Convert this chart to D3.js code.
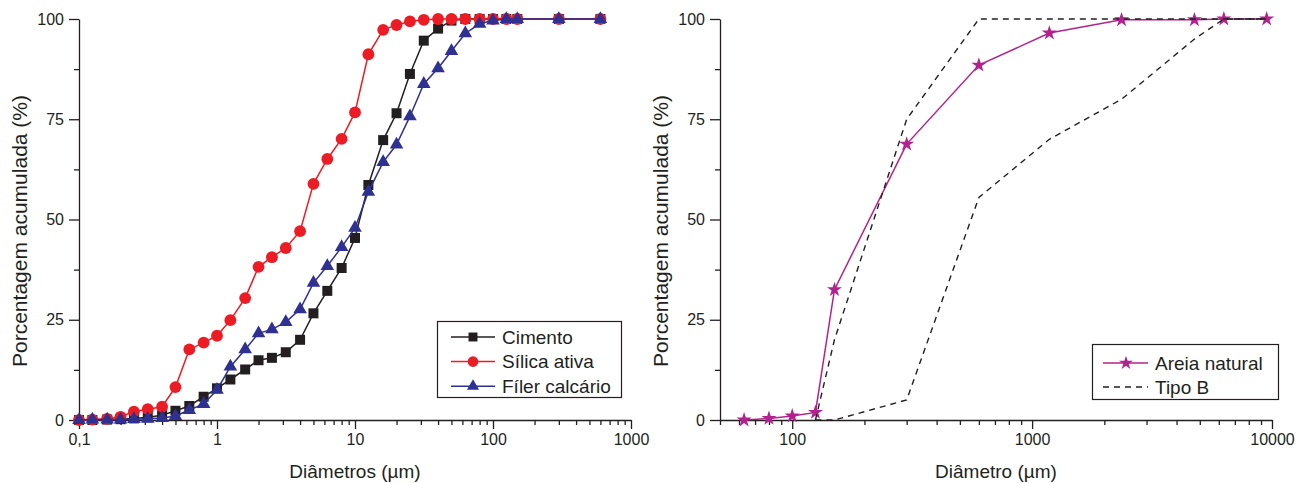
<!DOCTYPE html>
<html><head><meta charset="utf-8">
<script src="https://cdn.jsdelivr.net/npm/d3@7"></script>
<style>body{margin:0;background:#fff}svg{display:block;font-family:"Liberation Sans",Arial,sans-serif}</style>
</head><body>
<svg id="c" width="1304" height="483"></svg>
<script>
// ---- Data: left chart (fines) ----
const diamFines = [0.1,0.125,0.16,0.2,0.25,0.315,0.4,0.5,0.63,0.8,1,1.25,1.6,2,2.5,3.15,4,5,6.3,8,10,12.5,16,20,25,31.5,40,50,63,80,100,125,150,300,600];
const cimento   = [0,0,0.1,0.2,0.4,0.7,1.2,2.3,3.5,5.8,7.9,10.1,12.6,14.9,15.5,16.9,20,26.6,32.2,37.9,45.4,58.6,69.8,76.5,86.3,94.6,97.6,99.6,100,100,100,100,100,100,100];
const silica    = [0,0.1,0.3,0.8,2.1,2.7,3.3,8.2,17.6,19.3,21,24.9,30.4,38.2,40.6,42.9,47.1,58.9,65.1,70.1,76.7,91.2,97.3,98.5,99.4,99.8,100,100,100,100,100,100,100,100,100];
const filer     = [0,0.1,0.1,0.1,0.2,0.3,0.5,1.0,2.5,4.0,7.5,13.3,17.6,21.6,22.6,24.4,27.6,34.2,38.4,43.1,47.9,56.9,64.3,68.7,75.7,83.8,87.7,92.0,96.4,98.8,99.6,100,100,100,100];
const seriesFinesNames = ["Cimento","Sílica ativa","Fíler calcário"];

// ---- Data: right chart (sand) ----
const diamAreia = [63,80,100,125,150,300,600,1180,2360,4750,6300,9500];
const areia     = [0,0.4,1.0,1.9,32.5,68.8,88.5,96.5,99.8,99.8,100,100];
const tipoBUpperD = [125,150,300,600,1180,2360,4750,6300,9500];
const tipoBUpper  = [0,20,75,100,100,100,100,100,100];
const tipoBLowerD = [125,150,300,600,1180,2360,4750,6300,9500];
const tipoBLower  = [0,0,5,55.5,70,80,95,100,100];

const yTicks = [0,25,50,75,100];
const yMinor = [12.5,37.5,62.5,87.5];
const xTicksL = [0.1,1,10,100,1000];
const xLabelsL = ["0,1","1","10","100","1000"];
const xTicksR = [100,1000,10000];
const xLabelsR = ["100","1000","10000"];

const ink = "#231f20";
const svg = d3.select("#c");

const y = d3.scaleLinear().domain([0,100]).range([420,19]);
const xL = d3.scaleLog().domain([0.1,1000]).range([79,631]);
const xR = d3.scaleLog().domain([50,10000]).range([720,1272]);

function minorLog(lo, hi){
  const out=[];
  for(let d=Math.pow(10,Math.floor(Math.log10(lo))); d<hi; d*=10)
    for(let k=1;k<10;k++){const v=k*d; if(v>=lo-1e-9 && v<=hi+1e-9 && k!==1) out.push(v);}
  return out;
}

function drawAxes(x, xt, xl, xmin, x0, xTitle){
  const gx = svg.append("g").attr("transform","translate(0,420)");
  gx.call(d3.axisBottom(x).tickValues(xt).tickFormat((d,i)=>xl[i]).tickSizeInner(9).tickSizeOuter(0).tickPadding(5));
  const gxm = svg.append("g").attr("transform","translate(0,420)");
  gxm.call(d3.axisBottom(x).tickValues(xmin).tickFormat("").tickSizeInner(5).tickSizeOuter(0));
  gxm.select(".domain").remove();
  const gy = svg.append("g").attr("transform",`translate(${x0},0)`);
  gy.call(d3.axisLeft(y).tickValues(yTicks).tickSizeInner(10).tickSizeOuter(0).tickPadding(5));
  const gym = svg.append("g").attr("transform",`translate(${x0},0)`);
  gym.call(d3.axisLeft(y).tickValues(yMinor).tickFormat("").tickSizeInner(5).tickSizeOuter(0));
  gym.select(".domain").remove();
  svg.selectAll(".tick line, .domain").attr("stroke",ink).attr("stroke-width",1.3);
  [gx,gy].forEach(g=>g.selectAll("text").attr("fill",ink).style("font-size","16px").style("font-family","Liberation Sans, Arial, sans-serif"));
  const r = x.range();
  svg.append("text").attr("x",(r[0]+r[1])/2).attr("y",478).attr("text-anchor","middle")
    .attr("fill",ink).style("font-size","19px").text(xTitle);
  svg.append("text").attr("transform",`translate(${x0-59},231) rotate(-90)`).attr("text-anchor","middle")
    .attr("dy","0.35em").attr("fill",ink).style("font-size","21px").text("Porcentagem acumulada (%)");
}

drawAxes(xL, xTicksL, xLabelsL, minorLog(0.1,1000), 79, "Diâmetros (µm)");
drawAxes(xR, xTicksR, xLabelsR, [50,60,70,80,90].concat(minorLog(100,10000)), 720, "Diâmetro (µm)");

// ---- left series ----
const fines = [
  {name:seriesFinesNames[0], vals:cimento, color:"#231f20", sym:d3.symbolSquare, size:100},
  {name:seriesFinesNames[1], vals:silica,  color:"#ed1c24", sym:d3.symbolCircle, size:110},
  {name:seriesFinesNames[2], vals:filer,   color:"#2e3192", sym:d3.symbolTriangle, size:80}
];
fines.forEach(s=>{
  const pts = diamFines.map((d,i)=>[d,s.vals[i]]);
  svg.append("path").datum(pts).attr("fill","none").attr("stroke",s.color).attr("stroke-width",1.5)
    .attr("d", d3.line().x(d=>xL(d[0])).y(d=>y(d[1])));
  svg.append("g").selectAll("path").data(pts).join("path")
    .attr("transform",d=>`translate(${xL(d[0])},${y(d[1])})`)
    .attr("d", d3.symbol(s.sym, s.size)()).attr("fill",s.color);
});

// left legend
svg.append("rect").attr("x",437.5).attr("y",321.5).attr("width",184).attr("height",76)
  .attr("fill","#fff").attr("stroke",ink).attr("stroke-width",1.2);
fines.forEach((s,i)=>{
  const cy = 337 + i*24.6;
  svg.append("line").attr("x1",451).attr("x2",495).attr("y1",cy).attr("y2",cy).attr("stroke",s.color).attr("stroke-width",1.5);
  svg.append("path").attr("transform",`translate(473,${cy})`).attr("d",d3.symbol(s.sym,s.size*0.8)()).attr("fill",s.color);
  svg.append("text").attr("x",502).attr("y",cy).attr("dy","0.35em").attr("fill",ink).style("font-size","19px").text(s.name);
});

// ---- right series ----
const mag = "#b2228e";
const areiaPts = diamAreia.map((d,i)=>[d,areia[i]]);
svg.append("path").datum(areiaPts).attr("fill","none").attr("stroke",mag).attr("stroke-width",1.5)
  .attr("d", d3.line().x(d=>xR(d[0])).y(d=>y(d[1])));
svg.append("g").selectAll("path").data(areiaPts).join("path")
  .attr("transform",d=>`translate(${xR(d[0])},${y(d[1])})`)
  .attr("d", d3.symbol(d3.symbolStar, 70)()).attr("fill",mag);

[[tipoBUpperD,tipoBUpper],[tipoBLowerD,tipoBLower]].forEach(([ds,vs])=>{
  const pts = ds.map((d,i)=>[d,vs[i]]);
  svg.append("path").datum(pts).attr("fill","none").attr("stroke",ink).attr("stroke-width",1.4)
    .attr("stroke-dasharray","6,5").attr("d", d3.line().x(d=>xR(d[0])).y(d=>y(d[1])));
});

// right legend
svg.append("rect").attr("x",1092.5).attr("y",344.5).attr("width",186).attr("height",55)
  .attr("fill","#fff").attr("stroke",ink).attr("stroke-width",1.2);
svg.append("line").attr("x1",1103).attr("x2",1148).attr("y1",363).attr("y2",363).attr("stroke",mag).attr("stroke-width",1.5);
svg.append("path").attr("transform","translate(1126,363)").attr("d",d3.symbol(d3.symbolStar,60)()).attr("fill",mag);
svg.append("text").attr("x",1155).attr("y",363).attr("dy","0.35em").attr("fill",ink).style("font-size","19px").text("Areia natural");
svg.append("line").attr("x1",1103).attr("x2",1148).attr("y1",387).attr("y2",387).attr("stroke",ink).attr("stroke-width",1.4).attr("stroke-dasharray","6,5");
svg.append("text").attr("x",1155).attr("y",387).attr("dy","0.35em").attr("fill",ink).style("font-size","19px").text("Tipo B");
</script>
</body></html>
